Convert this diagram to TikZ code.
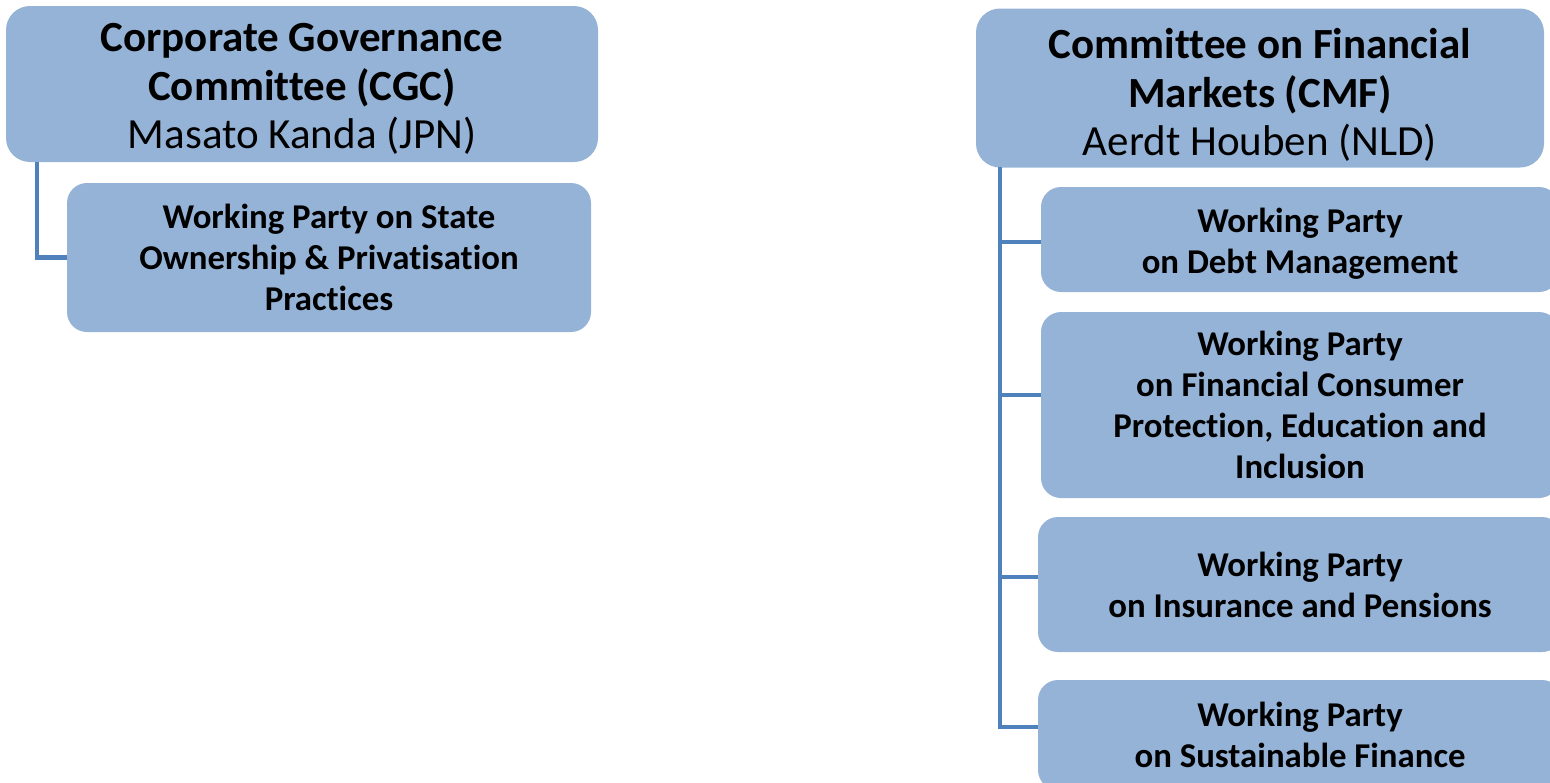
\documentclass[tikz,border=0pt]{standalone}
\usepackage{fontspec}
\setmainfont[Ligatures=NoCommon]{Carlito}
\definecolor{boxfill}{HTML}{95B3D7}
\definecolor{connblue}{HTML}{4F81BD}
\begin{document}
\begin{tikzpicture}[x=1pt,y=1pt,
  box/.style={fill=boxfill, draw=none, rounded corners=24pt, align=center, inner sep=0pt},
  bigtext/.style={font=\fontsize{43}{48.5}\selectfont},
  smalltext/.style={font=\fontsize{34.8}{41}\selectfont\bfseries},
  conn/.style={draw=connblue, line width=4.5pt}]
\useasboundingbox (0,0) rectangle (1550,-782);
\clip (0,0) rectangle (1550,-782);
% left group
\node[box, bigtext, minimum width=592pt, minimum height=156pt] (cgc) at (302,-84)
  {\rule{0pt}{38pt}\textbf{Corporate Governance}\\\textbf{Committee (CGC)}\\Masato Kanda (JPN)};
\node[box, smalltext, minimum width=524pt, minimum height=149pt, rounded corners=20pt] (wps) at (329,-257.5)
  {Working Party on State\\Ownership \& Privatisation\\Practices};
\coordinate (cg) at (37,-162);
\draw[conn] (cg) |- (wps.west);
% right group
\node[box, bigtext, minimum width=568pt, minimum height=159pt] (cmf) at (1260,-88)
  {\rule{0pt}{44pt}\textbf{Committee on Financial}\\\textbf{Markets (CMF)}\\Aerdt Houben (NLD)};
\node[box, smalltext, minimum width=518pt, minimum height=105pt, rounded corners=20pt] (dm) at (1300,-239.5)
  {\rule{0pt}{33pt}Working Party\\on Debt Management};
\node[box, smalltext, minimum width=518pt, minimum height=186pt, rounded corners=20pt] (fc) at (1300,-405)
  {Working Party\\on Financial Consumer\\Protection, Education and\\Inclusion};
\node[box, smalltext, minimum width=524pt, minimum height=135pt, rounded corners=20pt] (ip) at (1300,-584.5)
  {Working Party\\on Insurance and Pensions};
\node[box, smalltext, minimum width=524pt, minimum height=110pt, rounded corners=20pt] (sf) at (1300,-735)
  {Working Party\\on Sustainable Finance};
\coordinate (cm) at (1000,-167);
\draw[conn] (cm) |- ([yshift=8pt]sf.west);
\draw[conn] (1000,-242) -- ([yshift=-2.5pt]dm.west);
\draw[conn] (1000,-395) -- ([yshift=10pt]fc.west);
\draw[conn] (1000,-577) -- ([yshift=7.5pt]ip.west);
\end{tikzpicture}
\end{document}
